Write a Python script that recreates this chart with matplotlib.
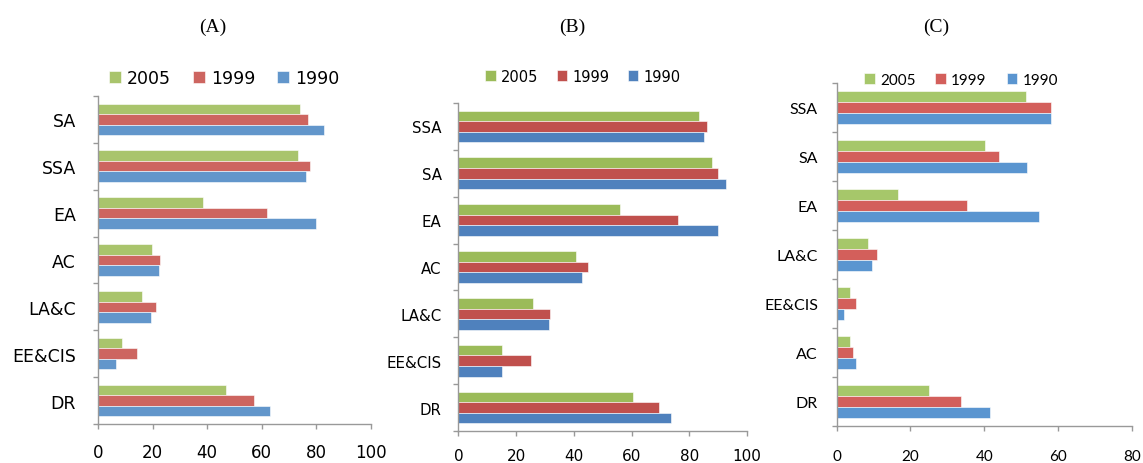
import matplotlib
matplotlib.use("Agg")
import matplotlib.pyplot as plt
import numpy as np

series = ["2005", "1999", "1990"]

# Panel A
cats_a = ["SA", "SSA", "EA", "AC", "LA&C", "EE&CIS", "DR"]
a_2005 = [74, 73.2, 38.6, 19.8, 16.3, 8.8, 47]
a_1999 = [77, 77.6, 62, 22.9, 21.2, 14.3, 57]
a_1990 = [82.9, 76.1, 80, 22.5, 19.6, 6.6, 63]
ticks_a = [0, 20, 40, 60, 80, 100]

# Panel B
cats_b = ["SSA", "SA", "EA", "AC", "LA&C", "EE&CIS", "DR"]
b_2005 = [83.4, 87.8, 55.9, 40.6, 25.8, 15.1, 60.6]
b_1999 = [86.1, 89.8, 76, 45, 31.6, 25.2, 69.6]
b_1990 = [85, 92.7, 90, 42.8, 31.4, 15.1, 73.7]
ticks_b = [0, 20, 40, 60, 80, 100]

# Panel C
cats_c = ["SSA", "SA", "EA", "LA&C", "EE&CIS", "AC", "DR"]
c_2005 = [51.3, 40.2, 16.7, 8.4, 3.6, 3.6, 25.1]
c_1999 = [58, 44.1, 35.3, 10.8, 5.2, 4.4, 33.6]
c_1990 = [58, 51.5, 54.8, 9.7, 2.0, 5.2, 41.5]
ticks_c = [0, 20, 40, 60, 80]

titles = ["(A)", "(B)", "(C)"]

fig = plt.figure(figsize=(11.43, 4.64), dpi=100)

panels = [
    dict(cats=cats_a, vals=[a_2005, a_1999, a_1990], ticks=ticks_a,
         rect=[0.0857, 0.0841, 0.2388, 0.707],
         colors=["#A9C46C", "#CD6560", "#6296CB"], font="DejaVu Sans",
         yfs=12.5, xfs=12, lfs=12.5, xpad=10, ypad=16, title_x=213/1143,
         leg=(224/1143, 1 - 79/464), cs=1.25),
    dict(cats=cats_b, vals=[b_2005, b_1999, b_1990], ticks=ticks_b,
         rect=[0.401, 0.069, 0.2526, 0.707],
         colors=["#9BBB59", "#C0504D", "#4F81BD"], font="DejaVu Sans",
         yfs=10.8, xfs=11, lfs=10.5, xpad=8.5, ypad=12, title_x=572/1143,
         leg=(583/1143, 1 - 77/464), cs=1.3),
    dict(cats=cats_c, vals=[c_2005, c_1999, c_1990], ticks=ticks_c,
         rect=[0.732, 0.0804, 0.2581, 0.7386],
         colors=["#A6C76A", "#D35F5B", "#5A95D0"], font="Lato",
         yfs=11.5, xfs=11, lfs=11, xpad=13.5, ypad=13.5, title_x=936/1143,
         leg=(961/1143, 1 - 81/464), cs=1.3),
]

bh = 0.225
for i, p in enumerate(panels):
    ax = fig.add_axes(p["rect"])
    n = len(p["cats"])
    y = np.arange(n)[::-1].astype(float)  # first category at top
    offsets = [-bh, 0, bh]
    handles = []
    for s, vals, col, off in zip(series, p["vals"], p["colors"], offsets):
        h = ax.barh(y - off, vals, height=bh, color=col, edgecolor="white",
                    linewidth=0.4, label=s)
        handles.append(h)
    ax.set_ylim(-0.5, n - 0.5)
    ax.set_xlim(p["ticks"][0], p["ticks"][-1])
    ax.set_xticks(p["ticks"])
    ax.set_xticklabels([str(t) for t in p["ticks"]], fontsize=p["xfs"],
                       family=p["font"])
    ax.set_yticks(y)
    ax.set_yticklabels(p["cats"], fontsize=p["yfs"], family=p["font"])
    ax.set_yticks(np.arange(n + 1) - 0.5, minor=True)
    ax.tick_params(axis="y", which="major", length=0, pad=p["ypad"])
    ax.tick_params(axis="y", which="minor", length=3.5, color="#999999", width=1)
    ax.tick_params(axis="x", which="major", length=3.5, color="#999999", width=1,
                   pad=p["xpad"])
    for sp in ["top", "right"]:
        ax.spines[sp].set_visible(False)
    for sp in ["left", "bottom"]:
        ax.spines[sp].set_color("#999999")
        ax.spines[sp].set_linewidth(1)
    leg = ax.legend(handles=handles, labels=series, loc="center",
                    ncol=3, frameon=False, handlelength=0.7, handleheight=0.7,
                    handletextpad=0.35, columnspacing=p["cs"],
                    prop={"family": p["font"], "size": p["lfs"]})
    leg.set_bbox_to_anchor(p["leg"], transform=fig.transFigure)
    fig.text(p["title_x"], 0.942, titles[i], ha="center", va="center",
             fontsize=14, family="Liberation Serif")

fig.savefig("out.png", dpi=100)
